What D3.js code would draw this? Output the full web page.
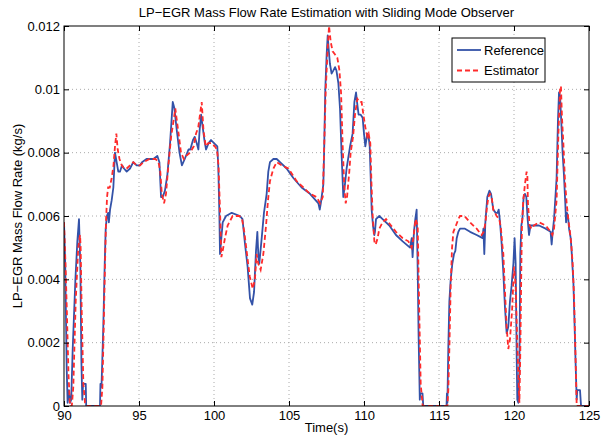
<!DOCTYPE html>
<html>
<head>
<meta charset="utf-8">
<script src="https://cdn.jsdelivr.net/npm/d3@7"></script>
<style>
  body { margin: 0; background: #fff; }
  svg { font-family: 'Liberation Sans', Arial, sans-serif; }
  .tick text { font-size: 13px; fill: #000; }
</style>
</head>
<body>
<div id="canvas"></div>
<script>
const title = 'LP\u2212EGR Mass Flow Rate Estimation with Sliding Mode Observer';
const xLabel = 'Time(s)';
const yLabel = 'LP\u2212EGR Mass Flow Rate (kg/s)';
const seriesNames = ['Reference', 'Estimator'];
const xTicks = [90, 95, 100, 105, 110, 115, 120, 125];
const yTicks = [0, 0.002, 0.004, 0.006, 0.008, 0.01, 0.012];

// Reference (blue solid)
const tRef = [90.0, 90.08, 90.18, 90.24, 90.33, 90.40, 90.48, 90.58, 90.76, 90.89, 91.00, 91.09, 91.16, 91.22, 91.27, 91.45, 91.48,
  92.40, 92.43, 92.50, 92.62, 92.71, 92.78, 92.86, 92.94, 92.99, 93.07, 93.18, 93.29, 93.40, 93.51, 93.62, 93.73, 93.87, 94.00,
  94.18, 94.40, 94.62, 94.84, 95.07, 95.20, 95.50, 95.96, 96.22, 96.36, 96.47, 96.58, 96.73, 96.89, 97.07, 97.25, 97.36, 97.52,
  97.70, 97.86, 98.05, 98.30, 98.42, 98.60, 98.71, 98.85, 98.96, 99.04, 99.14, 99.22, 99.36, 99.47, 99.64, 99.80, 100.0, 100.22,
  100.29, 100.36, 100.40, 100.49, 100.58, 100.80, 101.18, 101.73, 101.90, 102.07, 102.24, 102.40, 102.55, 102.67, 102.80, 102.89,
  102.96, 103.02, 103.18, 103.33, 103.51, 103.62, 103.73, 103.96, 104.18, 104.40, 104.84, 105.29, 105.84, 106.40, 106.96, 107.05,
  107.12, 107.29, 107.34, 107.42, 107.51, 107.58, 107.64, 107.73, 107.84, 107.96, 108.07, 108.16, 108.29, 108.40, 108.51, 108.62,
  108.73, 108.84, 109.07, 109.24, 109.36, 109.47, 109.56, 109.64, 109.78, 109.91, 110.00, 110.09, 110.22, 110.31, 110.38, 110.46,
  110.51, 110.60, 110.69, 110.73, 110.80, 111.02, 111.24, 111.69, 112.13, 112.58, 113.07, 113.18, 113.24, 113.33, 113.42, 113.51,
  113.58, 113.64, 113.72, 113.75, 113.90, 113.95, 115.50, 115.53, 115.56, 115.62, 115.69, 115.78, 115.89, 116.00, 116.09, 116.18,
  116.29, 116.40, 116.73, 117.07, 117.51, 117.91, 117.96, 118.02, 118.09, 118.22, 118.36, 118.47, 118.62, 118.78, 118.90, 118.98,
  119.07, 119.18, 119.29, 119.40, 119.51, 119.62, 119.73, 119.84, 119.96, 120.04, 120.11, 120.18, 120.22, 120.29, 120.36, 120.42,
  120.49, 120.56, 120.64, 120.73, 120.82, 120.91, 121.00, 121.10, 121.33, 121.67, 122.11, 122.44, 122.51, 122.58, 122.67, 122.84,
  122.93, 123.00, 123.07, 123.16, 123.24, 123.33, 123.42, 123.47, 123.53, 123.60, 123.67, 123.78, 123.84, 123.96, 124.02, 124.11,
  124.18, 124.22, 124.40, 124.47, 125.0];
const vRef = [0.0058, 0.0045, 0.0012, 0.0001, 0.0005, 0.0001, 0.0002, 0.0018, 0.0040, 0.0052, 0.0059, 0.0044, 0.0014, 0.0002, 0.0007, 0.0007, 0.0000,
  0.0000, 0.0007, 0.0006, 0.0025, 0.0044, 0.0056, 0.0060, 0.0061, 0.0058, 0.0062, 0.0065, 0.0069, 0.0080, 0.0077, 0.0074, 0.0074, 0.0076, 0.0075,
  0.0074, 0.0075, 0.0077, 0.0076, 0.0076, 0.0077, 0.0078, 0.0078, 0.0079, 0.0077, 0.0066, 0.0066, 0.0068, 0.0073, 0.0083, 0.0096, 0.0094, 0.0087,
  0.0080, 0.0076, 0.0078, 0.0081, 0.0081, 0.0084, 0.0085, 0.0083, 0.0081, 0.0087, 0.0092, 0.0089, 0.0084, 0.0081, 0.0083, 0.0084, 0.0083, 0.0082,
  0.0075, 0.0060, 0.0048, 0.0053, 0.0058, 0.0060, 0.0061, 0.0060, 0.0059, 0.0051, 0.0044, 0.0034, 0.0032, 0.0036, 0.0049, 0.0055,
  0.0047, 0.0045, 0.0053, 0.0061, 0.0067, 0.0074, 0.0077, 0.0078, 0.0078, 0.0077, 0.0075, 0.0072, 0.0069, 0.0067, 0.0064, 0.0062,
  0.0064, 0.0070, 0.0080, 0.0100, 0.0111, 0.0117, 0.0113, 0.0108, 0.0105, 0.0106, 0.0107, 0.0106, 0.0102, 0.0094, 0.0079, 0.0066,
  0.0070, 0.0075, 0.0082, 0.0086, 0.0096, 0.0099, 0.0095, 0.0092, 0.0092, 0.0091, 0.0086, 0.0082, 0.0086, 0.0085, 0.0082, 0.0070,
  0.0062, 0.0057, 0.0054, 0.0055, 0.0059, 0.0060, 0.0059, 0.0057, 0.0054, 0.0052, 0.0050, 0.0053, 0.0047, 0.0055, 0.0059, 0.0062,
  0.0043, 0.0022, 0.0002, 0.0004, 0.0004, 0.0000, 0.0000, 0.0004, 0.0001, 0.0018, 0.0033, 0.0040, 0.0045, 0.0048, 0.0049, 0.0053,
  0.0055, 0.0056, 0.0056, 0.0055, 0.0054, 0.0053, 0.0056, 0.0048, 0.0058, 0.0066, 0.0068, 0.0067, 0.0062, 0.0061, 0.0061, 0.0062,
  0.0058, 0.0051, 0.0042, 0.0031, 0.0023, 0.0025, 0.0033, 0.0038, 0.0045, 0.0053, 0.0045, 0.0015, 0.0002, 0.0001, 0.0012, 0.0048,
  0.0057, 0.0059, 0.0066, 0.0067, 0.0066, 0.0059, 0.0054, 0.0057, 0.0057, 0.0057, 0.0056, 0.0055, 0.0051, 0.0055, 0.0059, 0.0072,
  0.0090, 0.0099, 0.0098, 0.0089, 0.0080, 0.0073, 0.0064, 0.0058, 0.0061, 0.0060, 0.0056, 0.0053, 0.0049, 0.0039, 0.0029, 0.0013,
  0.0002, 0.0005, 0.0005, 0.0000, 0.0000];

// Estimator (red dashed)
const tEst = [90.0, 90.10, 90.19, 90.30, 90.40, 90.52, 90.62, 90.78, 90.95, 91.07, 91.11, 91.18, 91.29, 91.40, 91.51, 92.47, 92.56,
  92.64, 92.73, 92.80, 92.87, 92.94, 93.05, 93.18, 93.30, 93.40, 93.49, 93.58, 93.70, 93.85, 94.00, 94.18, 94.40, 94.62, 94.84,
  95.07, 95.30, 95.70, 96.10, 96.30, 96.42, 96.52, 96.67, 96.80, 96.96, 97.14, 97.30, 97.42, 97.50, 97.64, 97.80, 97.99, 98.15,
  98.40, 98.65, 98.80, 98.95, 99.18, 99.30, 99.45, 99.62, 99.85, 100.05, 100.20, 100.30, 100.40, 100.49, 100.58, 100.73, 100.91,
  101.24, 101.69, 101.87, 102.02, 102.20, 102.38, 102.58, 102.73, 102.84, 102.95, 103.11, 103.29, 103.47, 103.60, 103.73, 103.96,
  104.18, 104.50, 104.96, 105.51, 105.96, 106.40, 106.84, 107.07, 107.25, 107.33, 107.45, 107.58, 107.67, 107.78, 107.91, 108.07,
  108.22, 108.36, 108.47, 108.58, 108.69, 108.78, 108.87, 109.02, 109.11, 109.27, 109.40, 109.56, 109.70, 109.84, 109.96, 110.09,
  110.22, 110.31, 110.42, 110.50, 110.58, 110.69, 110.78, 110.91, 111.02, 111.24, 111.47, 111.80, 112.13, 112.58, 112.96, 113.18,
  113.29, 113.44, 113.58, 113.69, 113.78, 113.91, 115.56, 115.62, 115.69, 115.78, 115.87, 115.96, 116.13, 116.29, 116.40, 116.70,
  117.07, 117.51, 117.84, 117.98, 118.10, 118.18, 118.29, 118.40, 118.51, 118.62, 118.84, 119.02, 119.13, 119.22, 119.29, 119.40,
  119.51, 119.62, 119.73, 119.87, 120.00, 120.11, 120.20, 120.29, 120.36, 120.42, 120.49, 120.53, 120.62, 120.73, 120.84, 120.89,
  120.93, 121.04, 121.16, 121.33, 121.67, 122.11, 122.44, 122.56, 122.67, 122.84, 122.96, 123.07, 123.13, 123.20, 123.29, 123.40,
  123.51, 123.62, 123.73, 123.82, 123.91, 124.00, 124.09, 124.18, 125.0];
const vEst = [0.0058, 0.0045, 0.0030, 0.0010, 0.0000, 0.0000, 0.0006, 0.0033, 0.0050, 0.0054, 0.0050, 0.0030, 0.0007, 0.0001, 0.0000, 0.0000, 0.0006,
  0.0023, 0.0044, 0.0058, 0.0066, 0.0069, 0.0069, 0.0072, 0.0076, 0.0082, 0.0086, 0.0081, 0.0078, 0.0076, 0.0075, 0.0075, 0.0076, 0.0077, 0.0076,
  0.0076, 0.0077, 0.0078, 0.0078, 0.0077, 0.0074, 0.0067, 0.0064, 0.0067, 0.0076, 0.0085, 0.0090, 0.0094, 0.0091, 0.0086, 0.0080, 0.0078, 0.0079,
  0.0080, 0.0082, 0.0086, 0.0088, 0.0096, 0.0087, 0.0082, 0.0083, 0.0083, 0.0082, 0.0081, 0.0076, 0.0062, 0.0047, 0.0049, 0.0053, 0.0057,
  0.0060, 0.0060, 0.0059, 0.0055, 0.0048, 0.0041, 0.0037, 0.0040, 0.0048, 0.0045, 0.0043, 0.0048, 0.0057, 0.0065, 0.0071, 0.0075,
  0.0077, 0.0076, 0.0075, 0.0071, 0.0069, 0.0067, 0.0066, 0.0064, 0.0066, 0.0079, 0.0100, 0.0113, 0.0120, 0.0115, 0.0112, 0.0111,
  0.0110, 0.0106, 0.0099, 0.0082, 0.0069, 0.0064, 0.0066, 0.0074, 0.0080, 0.0085, 0.0092, 0.0097, 0.0096, 0.0096, 0.0092, 0.0088,
  0.0085, 0.0086, 0.0083, 0.0070, 0.0060, 0.0052, 0.0051, 0.0053, 0.0056, 0.0058, 0.0059, 0.0057, 0.0055, 0.0053, 0.0052, 0.0050,
  0.0053, 0.0059, 0.0057, 0.0028, 0.0007, 0.0000, 0.0000, 0.0005, 0.0018, 0.0038, 0.0050, 0.0055, 0.0057, 0.0059, 0.0060, 0.0060,
  0.0058, 0.0056, 0.0054, 0.0055, 0.0058, 0.0062, 0.0066, 0.0067, 0.0066, 0.0062, 0.0060, 0.0059, 0.0056, 0.0051, 0.0048, 0.0036,
  0.0025, 0.0018, 0.0021, 0.0030, 0.0044, 0.0038, 0.0023, 0.0010, 0.0001, 0.0017, 0.0044, 0.0057, 0.0065, 0.0070, 0.0074, 0.0073,
  0.0064, 0.0057, 0.0056, 0.0057, 0.0058, 0.0057, 0.0055, 0.0054, 0.0056, 0.0065, 0.0086, 0.0100, 0.0101, 0.0091, 0.0083, 0.0071,
  0.0064, 0.0059, 0.0055, 0.0051, 0.0045, 0.0035, 0.0018, 0.0000, 0.0000];

const w = 613;
const h = 436;
const margin = { top: 26, right: 24, bottom: 30, left: 64 };

const svg = d3.select('#canvas')
  .append('svg')
  .attr('width', w)
  .attr('height', h);

const xScale = d3.scaleLinear()
  .domain([90, 125])
  .range([margin.left, w - margin.right]);

const yScale = d3.scaleLinear()
  .domain([0, 0.012])
  .range([h - margin.bottom, margin.top]);

const plotW = w - margin.left - margin.right;
const plotH = h - margin.top - margin.bottom;

// dotted grid
svg.append('g')
  .selectAll('line')
  .data(xTicks.slice(1, -1))
  .enter()
  .append('line')
  .attr('x1', d => xScale(d)).attr('x2', d => xScale(d))
  .attr('y1', margin.top).attr('y2', h - margin.bottom)
  .attr('stroke', '#aaa').attr('stroke-dasharray', '1,3');

svg.append('g')
  .selectAll('line')
  .data(yTicks.slice(1, -1))
  .enter()
  .append('line')
  .attr('x1', margin.left).attr('x2', w - margin.right)
  .attr('y1', d => yScale(d)).attr('y2', d => yScale(d))
  .attr('stroke', '#aaa').attr('stroke-dasharray', '1,3');

svg.append('clipPath')
  .attr('id', 'clip')
  .append('rect')
  .attr('x', margin.left).attr('y', margin.top)
  .attr('width', plotW).attr('height', plotH);

const line = d3.line()
  .x(d => xScale(d[0]))
  .y(d => yScale(d[1]));

const refData = tRef.map((t, i) => [t, vRef[i]]);
const estData = tEst.map((t, i) => [t, vEst[i]]);

svg.append('path')
  .datum(refData)
  .attr('clip-path', 'url(#clip)')
  .attr('fill', 'none')
  .attr('stroke', '#3352a8')
  .attr('stroke-width', 1.8)
  .attr('stroke-linejoin', 'round')
  .attr('d', line);

svg.append('path')
  .datum(estData)
  .attr('clip-path', 'url(#clip)')
  .attr('fill', 'none')
  .attr('stroke', '#ff2b2b')
  .attr('stroke-width', 1.8)
  .attr('stroke-dasharray', '5,3')
  .attr('d', line);

// axes with inward ticks, on all four sides
const fmtY = d => String(d);

svg.append('g')
  .attr('transform', 'translate(0,' + (h - margin.bottom) + ')')
  .call(d3.axisBottom(xScale).tickValues(xTicks).tickSize(-5).tickSizeOuter(0).tickPadding(5))
  .call(g => g.select('.domain').remove());

svg.append('g')
  .attr('transform', 'translate(0,' + margin.top + ')')
  .call(d3.axisTop(xScale).tickValues(xTicks).tickSize(-5).tickSizeOuter(0).tickFormat(''))
  .call(g => g.select('.domain').remove());

svg.append('g')
  .attr('transform', 'translate(' + margin.left + ',0)')
  .call(d3.axisLeft(yScale).tickValues(yTicks).tickSize(-5).tickSizeOuter(0).tickPadding(4).tickFormat(fmtY))
  .call(g => g.select('.domain').remove());

svg.append('g')
  .attr('transform', 'translate(' + (w - margin.right) + ',0)')
  .call(d3.axisRight(yScale).tickValues(yTicks).tickSize(-5).tickSizeOuter(0).tickFormat(''))
  .call(g => g.select('.domain').remove());

svg.append('rect')
  .attr('x', margin.left).attr('y', margin.top)
  .attr('width', plotW).attr('height', plotH)
  .attr('fill', 'none').attr('stroke', '#000').attr('stroke-width', 1);

// labels
svg.append('text')
  .attr('x', margin.left + plotW / 2)
  .attr('y', 17)
  .style('text-anchor', 'middle')
  .style('font-size', '13px')
  .text(title);

svg.append('text')
  .attr('x', margin.left + plotW / 2)
  .attr('y', 432)
  .style('text-anchor', 'middle')
  .style('font-size', '13px')
  .text(xLabel);

svg.append('text')
  .attr('transform', 'translate(22,' + (margin.top + plotH / 2) + ') rotate(-90)')
  .style('text-anchor', 'middle')
  .style('font-size', '13px')
  .text(yLabel);

// legend
const legend = svg.append('g').attr('transform', 'translate(452,38)');
legend.append('rect')
  .attr('width', 93).attr('height', 44)
  .attr('fill', '#fff').attr('stroke', '#000').attr('stroke-width', 1);

const styles = [{ color: '#3352a8', dash: null }, { color: '#ff2b2b', dash: '5,3' }];
seriesNames.forEach((name, i) => {
  const y = 12 + i * 20.5;
  legend.append('line')
    .attr('x1', 5).attr('x2', 29)
    .attr('y1', y).attr('y2', y)
    .attr('stroke', styles[i].color)
    .attr('stroke-width', 1.8)
    .attr('stroke-dasharray', styles[i].dash);
  legend.append('text')
    .attr('x', 32).attr('y', y + 4.5)
    .style('font-size', '13px')
    .text(name);
});
</script>
</body>
</html>
